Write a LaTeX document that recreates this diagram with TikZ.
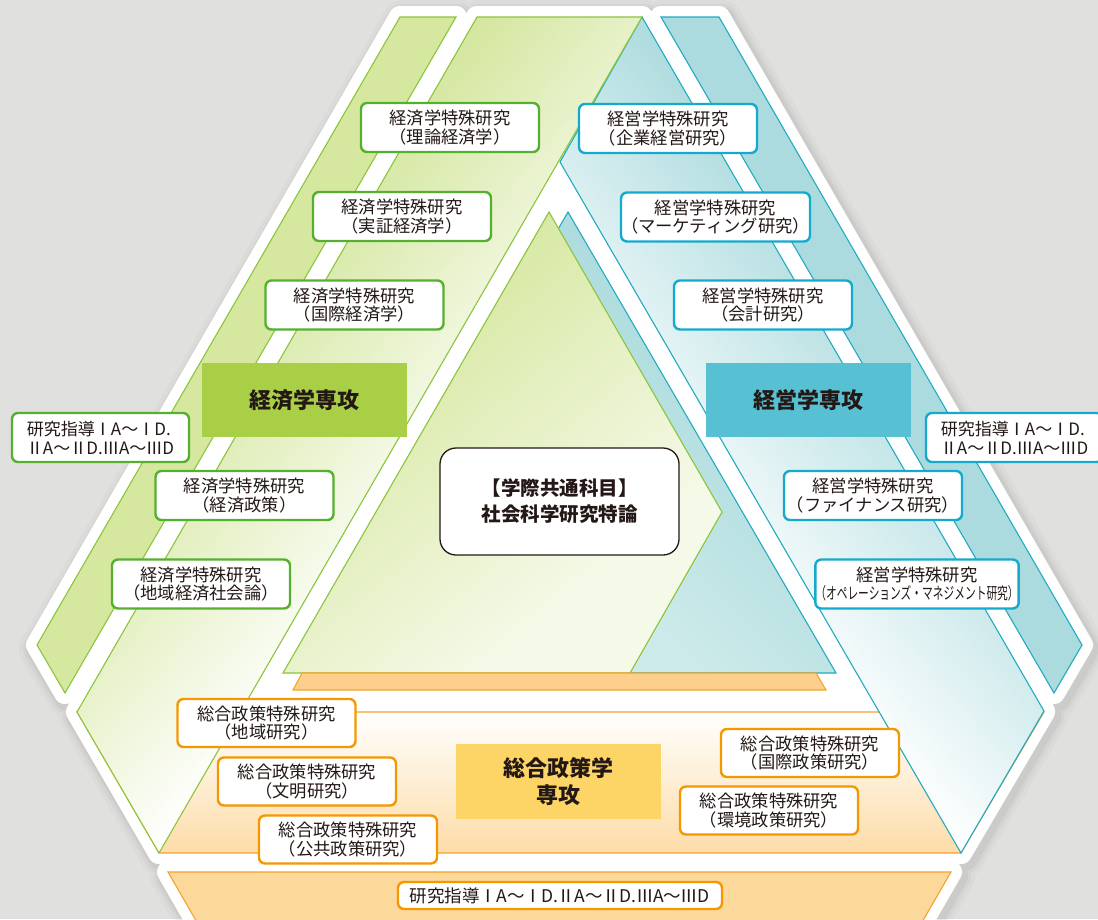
\documentclass[tikz,border=0pt]{standalone}
\usepackage{fontspec}
\setmainfont{Noto Sans CJK JP}
\newcommand\rn[1]{\makebox[0.95em]{#1}}
\definecolor{bgG}{HTML}{E0E0DE}
\definecolor{gLine}{HTML}{8CC43C}
\definecolor{gFill}{HTML}{D6E8A0}
\definecolor{gInner}{HTML}{D3E69C}
\definecolor{gTri}{HTML}{D5E79D}
\definecolor{gTriL}{HTML}{F5F9E8}
\definecolor{gBox}{HTML}{55B030}
\definecolor{gMajor}{HTML}{A8CF45}
\definecolor{bLine}{HTML}{22AAC4}
\definecolor{bFill}{HTML}{ABDBDE}
\definecolor{bInner}{HTML}{ACDBDE}
\definecolor{bTri}{HTML}{A3D7DA}
\definecolor{bTriL}{HTML}{CDEAEA}
\definecolor{bBox}{HTML}{14AACE}
\definecolor{bMajor}{HTML}{57C0D2}
\definecolor{oLine}{HTML}{F5A32A}
\definecolor{oFill}{HTML}{FDD89B}
\definecolor{oBar}{HTML}{FCD08C}
\definecolor{oLight}{HTML}{FDDCA8}
\definecolor{oBox}{HTML}{F39800}
\definecolor{oMajor}{HTML}{FDD466}
\definecolor{txt}{HTML}{231815}
% #1 path, #2 cx, #3 cy, #4 angle, #5 half ramp, #6 far colour, #7 near colour
\newcommand\gradclip[7]{%
 \begin{scope}
  \clip #1;
  \begin{scope}[transform canvas={shift={(#2,#3)},rotate=#4}]
   \fill[#7] (-3000pt,-3000pt) rectangle (3000pt,-#5pt);
   \fill[#6] (-3000pt,#5pt) rectangle (3000pt,3000pt);
   \shade[bottom color=#7, top color=#6] (-3000pt,-#5pt) rectangle (3000pt,#5pt);
  \end{scope}
 \end{scope}}
\tikzset{
 boxbase/.style={rounded corners=6pt, line width=2.4pt, fill=white, minimum width=178pt,
   minimum height=49pt, inner sep=0pt, align=center, text=txt,
   font=\fontsize{17.3}{18.2}\selectfont},
 gbox/.style={boxbase, draw=gBox},
 bbox/.style={boxbase, draw=bBox},
 obox/.style={boxbase, draw=oBox, minimum height=48pt},
 guidetext/.style={align=left, font=\fontsize{17}{19}\selectfont},
 major/.style={minimum width=205pt, minimum height=74pt, inner sep=0pt, align=center,
   text=txt, font=\fontsize{22}{27}\selectfont\bfseries},
 stripline/.style={line width=1.1pt, line join=miter},
}
\begin{document}
\begin{tikzpicture}[x=1pt,y=-1pt]
\def\pOG{(400,17)--(456,17)--(65,693)--(37,645)--cycle}
\def\pIG{(477,17)--(642,17)--(159,853)--(77,712)--cycle}
\def\pOB{(661,17)--(719,17)--(1082,645)--(1054,693)--cycle}
\def\pIB{(560,162)--(642,17)--(1044,711)--(961,853)--cycle}
\def\pIO{(77,712)--(1044,712)--(961,853)--(159,853)--cycle}
\def\pOO{(168,872)--(951,872)--(921,924)--(198,924)--cycle}
\def\pTri{(560,162)--(878,712)--(240,712)--cycle}
\def\pBT{(568,212)--(836,673)--(302,673)--cycle}
\def\pGT{(549,212)--(722,512)--(630,673)--(283,673)--cycle}
\def\pBar{(302,673)--(816,673)--(826,690)--(293,690)--cycle}
\useasboundingbox (0,0) rectangle (1098,919);
\fill[bgG] (0,0) rectangle (1098,919);
% shadow
\begin{scope}[shift={(3,4)}]
\foreach \w/\o in {42/0.02,34/0.03,28/0.04}{
  \draw[black, opacity=\o, line width=\w pt, line join=round] \pOG \pIG \pOB \pIB \pIO \pOO;
}
\end{scope}
% white frame
\draw[white, fill=white, line width=22pt, line join=round] \pOG \pIG \pOB \pIB \pIO \pOO \pTri;
% strips
\fill[oFill] \pOO; \draw[oLine, stripline] \pOO;
\shade[top color=white, bottom color=oLight] \pIO; \draw[oLine, stripline] \pIO;
\gradclip{\pIB}{790}{420}{-50}{150}{bInner}{white}
\draw[bLine, stripline] \pIB;
\gradclip{\pIG}{329}{420}{50}{150}{gInner}{white}
\draw[gLine, stripline] \pIG;
\fill[gFill] \pOG; \draw[gLine, stripline] \pOG;
\fill[bFill] \pOB; \draw[bLine, stripline] \pOB;
% central triangle
\gradclip{\pBT}{720}{480}{-45}{150}{bTri}{bTriL}
\draw[bLine, stripline] \pBT;
\gradclip{\pGT}{470}{460}{40}{170}{gTri}{gTriL}
\draw[gLine, stripline] \pGT;
\fill[oBar] \pBar; \draw[oLine, stripline] \pBar;
% economics
\node[gbox] (ge1) at (450,127.5) {経済学特殊研究\\（理論経済学）};
\node[gbox] (ge2) at (402,216.5) {経済学特殊研究\\（実証経済学）};
\node[gbox] (ge3) at (354.5,305) {経済学特殊研究\\（国際経済学）};
\node[gbox] (ge4) at (244.5,495.5) {経済学特殊研究\\（経済政策）};
\node[gbox] (ge5) at (201,584) {経済学特殊研究\\（地域経済社会論）};
\node[gbox, minimum width=177pt, guidetext] (gguide) at (100.5,437.5) {研究指導\rn{Ⅰ}A～\rn{Ⅰ}D.\\\rn{Ⅱ}A～\rn{Ⅱ}D.\rn{Ⅲ}A～\rn{Ⅲ}D};
\node[major, fill=gMajor] (emajor) at (304.5,400) {経済学専攻};
% management
\node[bbox] (bm1) at (668,128.5) {経営学特殊研究\\（企業経営研究）};
\node[bbox] (bm2) at (715.5,217) {経営学特殊研究\\（マーケティング研究）};
\node[bbox] (bm3) at (763,305) {経営学特殊研究\\（会計研究）};
\node[bbox] (bm4) at (873,495.5) {経営学特殊研究\\（ファイナンス研究）};
\node[bbox, minimum width=194pt] (bm5) at (917,584) {経営学特殊研究\\\scalebox{0.62}[0.95]{（オペレーションズ・マネジメント研究）}};
\node[bbox, minimum width=177pt, guidetext] (bguide) at (1014.5,437.5) {研究指導\rn{Ⅰ}A～\rn{Ⅰ}D.\\\rn{Ⅱ}A～\rn{Ⅱ}D.\rn{Ⅲ}A～\rn{Ⅲ}D};
\node[major, fill=bMajor] (mmajor) at (808.5,400) {経営学専攻};
% policy
\node[obox] (op1) at (266.5,723) {総合政策特殊研究\\（地域研究）};
\node[obox] (op2) at (307,781.5) {総合政策特殊研究\\（文明研究）};
\node[obox] (op3) at (348,839.5) {総合政策特殊研究\\（公共政策研究）};
\node[obox] (op4) at (810,753) {総合政策特殊研究\\（国際政策研究）};
\node[obox] (op5) at (769,810.5) {総合政策特殊研究\\（環境政策研究）};
\node[obox, minimum width=324pt, minimum height=27pt, font=\fontsize{17.5}{19}\selectfont] (oguide) at (560,895.5) {研究指導\rn{Ⅰ}A～\rn{Ⅰ}D.\rn{Ⅱ}A～\rn{Ⅱ}D.\rn{Ⅲ}A～\rn{Ⅲ}D};
\node[major, fill=oMajor, minimum height=75pt] (pmajor) at (558.5,781.5) {総合政策学\\専攻};
% core
\node[draw=txt, line width=1.3pt, rounded corners=16pt, fill=white, minimum width=239pt,
  minimum height=107pt, inner sep=0pt, align=center, text=txt,
  font=\fontsize{19.5}{26}\selectfont\bfseries] (core) at (559.5,501.5) {【学際共通科目】\\社会科学研究特論};
\end{tikzpicture}
\end{document}
